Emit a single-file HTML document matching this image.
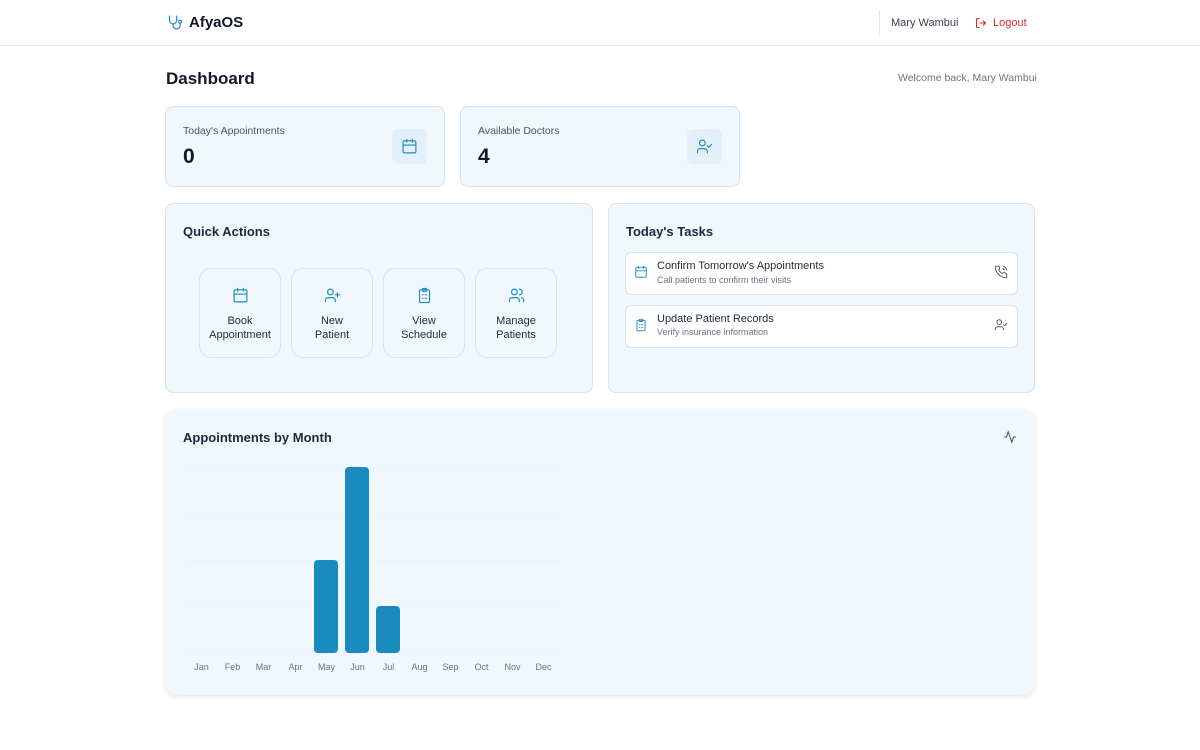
<!DOCTYPE html>
<html><head><meta charset="utf-8"><style>
*{box-sizing:border-box;margin:0;padding:0}
body{width:1200px;height:750px;background:#fff;font-family:"Liberation Sans",sans-serif;color:#111827;position:relative;overflow:hidden}
.abs{position:absolute}
.card{position:absolute;background:#f0f7fd;border:1px solid #d5e4ef;border-radius:8px}
.ic{stroke:#1a8bbf;fill:none;stroke-width:1.6;stroke-linecap:round;stroke-linejoin:round}
.btn{position:absolute;top:268px;width:82px;height:90px;border:1px solid #d5e4ef;border-radius:12px;text-align:center;font-size:11px;line-height:14px;color:#1f2937}
.btn svg{margin-top:18px;margin-bottom:6px}
.task{position:absolute;left:625px;width:393px;height:43px;background:#fff;border:1px solid #d5e4ef;border-radius:6px}
.m{position:absolute;top:662px;font-size:9px;color:#6b7280;width:31px;text-align:center}
.g{position:absolute;left:186px;width:374px;height:1px;background:#edf3f8}
.bar{position:absolute;width:24px;background:#1a8bbf;border-radius:4px}
.h{font-weight:bold;color:#1f2937}
</style></head><body>
<div class="abs" style="left:0;top:45px;width:1200px;height:1px;background:#e1e7ee"></div>
<svg class="abs" style="left:166px;top:14px" width="17" height="17" viewBox="0 0 24 24"><path class="ic" stroke-width="2.2" d="M5 3v6a5 5 0 0 0 10 0V3M10 14v2a5 5 0 0 0 10 0v-3"/><circle class="ic" stroke-width="2.2" cx="20" cy="11" r="2"/></svg>
<div class="abs" style="left:189px;top:14px;font-size:15px;font-weight:bold">AfyaOS</div>
<div class="abs" style="left:879px;top:10px;width:1px;height:26px;background:#e1e7ee"></div>
<div class="abs" style="left:891px;top:17px;font-size:11px;color:#374151">Mary Wambui</div>
<svg class="abs" style="left:975px;top:17px" width="12" height="12" viewBox="0 0 24 24"><path d="M9 21H5a2 2 0 0 1-2-2V5a2 2 0 0 1 2-2h4M16 17l5-5-5-5M21 12H9" fill="none" stroke="#dc2626" stroke-width="2.2"/></svg>
<div class="abs" style="left:993px;top:17px;font-size:11px;color:#dc2626">Logout</div>
<div class="abs h" style="left:166px;top:69px;font-size:17px;color:#111827">Dashboard</div>
<div class="abs" style="left:898px;top:72px;font-size:10.5px;color:#6b7280">Welcome back, Mary Wambui</div>

<div class="card" style="left:165px;top:106px;width:280px;height:81px"></div>
<div class="abs" style="left:183px;top:125px;font-size:10.5px;color:#4b5563">Today's Appointments</div>
<div class="abs" style="left:183px;top:145px;font-size:21px;font-weight:bold">0</div>
<div class="abs" style="left:392px;top:129px;width:35px;height:35px;background:#e3f0fa;border-radius:6px"></div>
<svg class="abs" style="left:401px;top:138px" width="17" height="17" viewBox="0 0 24 24"><rect class="ic" x="3" y="4" width="18" height="17" rx="2"/><path class="ic" d="M8 2v4M16 2v4M3 10h18"/></svg>
<div class="card" style="left:460px;top:106px;width:280px;height:81px"></div>
<div class="abs" style="left:478px;top:125px;font-size:10.5px;color:#4b5563">Available Doctors</div>
<div class="abs" style="left:478px;top:145px;font-size:21px;font-weight:bold">4</div>
<div class="abs" style="left:687px;top:129px;width:35px;height:35px;background:#e3f0fa;border-radius:6px"></div>
<svg class="abs" style="left:696px;top:138px" width="17" height="17" viewBox="0 0 24 24"><circle class="ic" cx="9" cy="7" r="4"/><path class="ic" d="M2 21v-2a4 4 0 0 1 4-4h6a4 4 0 0 1 4 4v2M16 11l2 2 4-4"/></svg>

<div class="card" style="left:165px;top:203px;width:428px;height:190px"></div>
<div class="abs h" style="left:183px;top:224px;font-size:13px">Quick Actions</div>
<div class="btn" style="left:199px"><svg width="17" height="17" viewBox="0 0 24 24"><rect class="ic" x="3" y="4" width="18" height="17" rx="2"/><path class="ic" d="M8 2v4M16 2v4M3 10h18"/></svg><br>Book<br>Appointment</div>
<div class="btn" style="left:291px"><svg width="17" height="17" viewBox="0 0 24 24"><circle class="ic" cx="9" cy="7" r="4"/><path class="ic" d="M2 21v-2a4 4 0 0 1 4-4h6a4 4 0 0 1 4 4v2M19 8v6M16 11h6"/></svg><br>New<br>Patient</div>
<div class="btn" style="left:383px"><svg width="17" height="17" viewBox="0 0 24 24"><rect class="ic" x="5" y="4" width="14" height="18" rx="2"/><rect class="ic" x="9" y="2" width="6" height="4" rx="1"/><path class="ic" d="M9 11h1M13 11h2M9 16h1M13 16h2"/></svg><br>View<br>Schedule</div>
<div class="btn" style="left:475px"><svg width="17" height="17" viewBox="0 0 24 24"><circle class="ic" cx="9" cy="7" r="4"/><path class="ic" d="M2 21v-2a4 4 0 0 1 4-4h6a4 4 0 0 1 4 4v2M16 3a4 4 0 0 1 0 8M22 21v-2a4 4 0 0 0-3-3.9"/></svg><br>Manage<br>Patients</div>

<div class="card" style="left:608px;top:203px;width:427px;height:190px"></div>
<div class="abs h" style="left:626px;top:224px;font-size:13px">Today's Tasks</div>
<div class="task" style="top:252px"></div>
<svg class="abs" style="left:634px;top:265px" width="14" height="14" viewBox="0 0 24 24"><rect class="ic" x="3" y="4" width="18" height="17" rx="2"/><path class="ic" d="M8 2v4M16 2v4M3 10h18"/></svg>
<div class="abs" style="left:657px;top:260px;font-size:11px;color:#1f2937">Confirm Tomorrow's Appointments</div>
<div class="abs" style="left:657px;top:275px;font-size:9px;color:#6b7280">Call patients to confirm their visits</div>
<svg class="abs" style="left:994px;top:265px" width="14" height="14" viewBox="0 0 24 24"><path d="M22 16.9v3a2 2 0 0 1-2.2 2 19.8 19.8 0 0 1-8.6-3.1 19.5 19.5 0 0 1-6-6A19.8 19.8 0 0 1 2.1 4.2 2 2 0 0 1 4.1 2h3a2 2 0 0 1 2 1.7l.7 2.8-1.7 2.2a16 16 0 0 0 6 6l2.2-1.7 2.8.7a2 2 0 0 1 1.7 2zM15 2a9 9 0 0 1 7 7M15 6a5 5 0 0 1 3 3" fill="none" stroke="#4b5563" stroke-width="1.6"/></svg>
<div class="task" style="top:305px"></div>
<svg class="abs" style="left:634px;top:318px" width="14" height="14" viewBox="0 0 24 24"><rect class="ic" x="5" y="4" width="14" height="18" rx="2"/><rect class="ic" x="9" y="2" width="6" height="4" rx="1"/><path class="ic" d="M9 11h1M13 11h2M9 16h1M13 16h2"/></svg>
<div class="abs" style="left:657px;top:313px;font-size:11px;color:#1f2937">Update Patient Records</div>
<div class="abs" style="left:657px;top:327px;font-size:9px;color:#6b7280">Verify insurance information</div>
<svg class="abs" style="left:994px;top:318px" width="14" height="14" viewBox="0 0 24 24"><circle cx="9" cy="7" r="4" fill="none" stroke="#4b5563" stroke-width="1.6"/><path d="M2 21v-2a4 4 0 0 1 4-4h6a4 4 0 0 1 4 4v2M16 11l2 2 4-4" fill="none" stroke="#4b5563" stroke-width="1.6"/></svg>

<div class="abs" style="left:165px;top:409px;width:870px;height:286px;background:#f0f7fd;border-radius:12px;box-shadow:0 2px 6px rgba(0,0,0,0.1)"></div>
<div class="abs h" style="left:183px;top:430px;font-size:13px">Appointments by Month</div>
<svg class="abs" style="left:1003px;top:430px" width="14" height="14" viewBox="0 0 24 24"><path d="M22 12h-4l-3 9L9 3l-3 9H2" fill="none" stroke="#4b5563" stroke-width="1.8"/></svg>
<div class="g" style="top:467px"></div><div class="g" style="top:513px"></div><div class="g" style="top:560px"></div><div class="g" style="top:606px"></div><div class="g" style="top:652px"></div>
<div class="bar" style="left:314px;top:560px;height:93px"></div>
<div class="bar" style="left:345px;top:467px;height:186px"></div>
<div class="bar" style="left:376px;top:606px;height:47px"></div>
<div class="m" style="left:186px">Jan</div><div class="m" style="left:217px">Feb</div><div class="m" style="left:248px">Mar</div><div class="m" style="left:280px">Apr</div><div class="m" style="left:311px">May</div><div class="m" style="left:342px">Jun</div><div class="m" style="left:373px">Jul</div><div class="m" style="left:404px">Aug</div><div class="m" style="left:435px">Sep</div><div class="m" style="left:466px">Oct</div><div class="m" style="left:497px">Nov</div><div class="m" style="left:528px">Dec</div>
</body></html>
